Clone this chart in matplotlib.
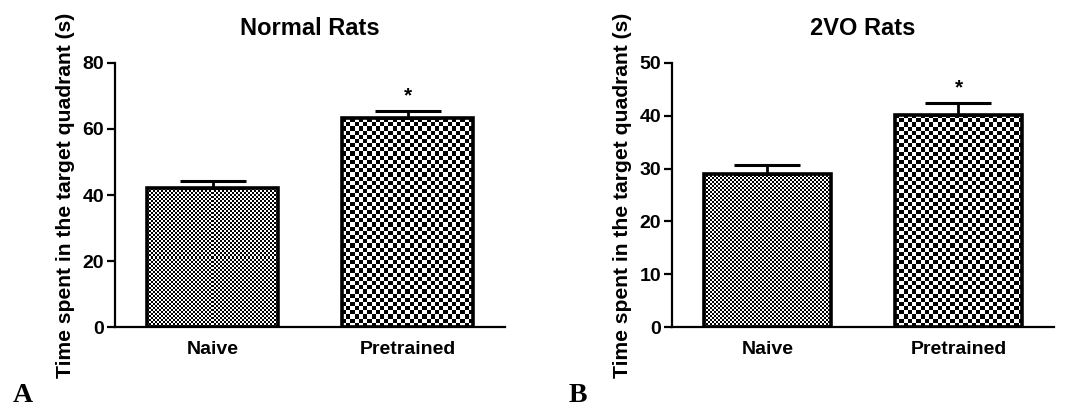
import numpy as np
import matplotlib
matplotlib.use('Agg')
import matplotlib.pyplot as plt

plt.rcParams['font.family'] = ['Liberation Sans', 'DejaVu Sans']
plt.rcParams['font.weight'] = 'bold'

groups = ['Naive', 'Pretrained']
normal_means = [42.0, 63.2]
normal_sem = [2.2, 2.3]
vo_means = [29.0, 40.2]
vo_sem = [1.6, 2.2]
signif = ['', '*']
titles = ['Normal Rats', '2VO Rats']
ylims = [80, 50]
ysteps = [20, 10]
panel_letters = ['A', 'B']
ylabel = 'Time spent in the target quadrant (s)'

cell_px = [2.0, 4.2]   # checker size for naive / pretrained
bar_w = 0.67

fig = plt.figure(figsize=(10.67, 4.08), dpi=100)
ax1 = fig.add_axes([0.1078, 0.1985, 0.3655, 0.6471])
ax2 = fig.add_axes([0.6298, 0.1985, 0.3580, 0.6471])


def draw_panel(ax, means, sem, title, ymax, step):
    x = np.arange(len(groups))
    ax.set_xlim(-0.5, 1.5)
    ax.set_ylim(0, ymax)
    bars = ax.bar(x, means, width=bar_w, fill=False, edgecolor='black',
                  linewidth=2.6, zorder=3)
    for i, b in enumerate(bars):
        x0, y0 = b.get_x(), 0
        x1, y1 = b.get_x() + b.get_width(), b.get_height()
        p0 = ax.transData.transform((x0, y0))
        p1 = ax.transData.transform((x1, y1))
        nx = max(int(round((p1[0] - p0[0]) / cell_px[i])), 1)
        ny = max(int(round((p1[1] - p0[1]) / cell_px[i])), 1)
        board = np.indices((ny, nx)).sum(0) % 2
        im = ax.imshow(board, cmap='gray', extent=(x0, x1, y0, y1),
                       interpolation='nearest', aspect='auto', zorder=2)
        im.set_clip_path(b)
    ax.errorbar(x, means, yerr=[np.zeros(len(means)), sem], fmt='none',
                ecolor='black', elinewidth=2, capsize=24, capthick=2.2,
                zorder=4)
    for xi, m, s, star in zip(x, means, sem, signif):
        if star:
            ax.text(xi, m + s + ymax * 0.02, star, ha='center', va='bottom',
                    fontsize=15, fontweight='bold')
    ax.set_xlim(-0.5, 1.5)
    ax.set_ylim(0, ymax)
    ax.set_yticks(np.arange(0, ymax + 1, step))
    ax.set_xticks(x)
    ax.set_xticklabels(groups)
    ax.spines['top'].set_visible(False)
    ax.spines['right'].set_visible(False)
    ax.spines['left'].set_linewidth(1.6)
    ax.spines['bottom'].set_linewidth(1.6)
    ax.tick_params(axis='y', length=6, width=1.6, labelsize=14, pad=2)
    ax.tick_params(axis='x', length=0, labelsize=14, pad=10)
    ax.set_title(title, fontsize=17, fontweight='bold', pad=20)
    ax.set_ylabel(ylabel, fontsize=15.2, fontweight='bold', labelpad=5)


draw_panel(ax1, normal_means, normal_sem, titles[0], ylims[0], ysteps[0])
draw_panel(ax2, vo_means, vo_sem, titles[1], ylims[1], ysteps[1])

fig.text(0.012, 0.015, panel_letters[0], family='Liberation Serif',
         fontsize=20, fontweight='bold')
fig.text(0.533, 0.015, panel_letters[1], family='Liberation Serif',
         fontsize=20, fontweight='bold')

fig.savefig('out.png', dpi=100)
